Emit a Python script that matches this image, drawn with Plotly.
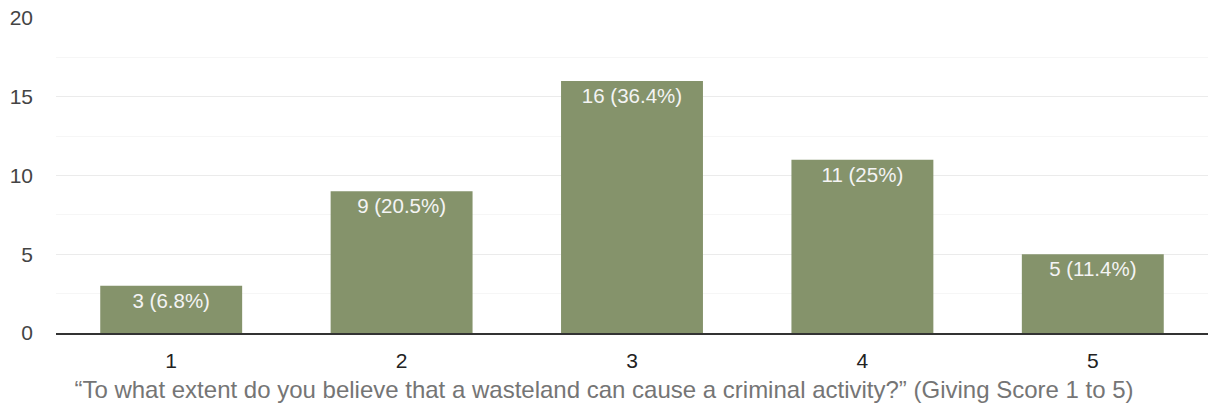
import plotly.graph_objects as go

# Survey responses: score given (1-5) and number of respondents
scores = ["1", "2", "3", "4", "5"]
counts = [3, 9, 16, 11, 5]
percent_labels = ["6.8%", "20.5%", "36.4%", "25%", "11.4%"]
y_ticks = [0, 5, 10, 15, 20]
axis_title = "\u201cTo what extent do you believe that a wasteland can cause a criminal activity?\u201d (Giving Score 1 to 5)"

bar_text = [f"{c} ({p})" for c, p in zip(counts, percent_labels)]

fig = go.Figure(
    go.Bar(
        x=scores,
        y=counts,
        text=bar_text,
        textposition="inside",
        insidetextanchor="end",
        textangle=0,
        textfont=dict(family="Liberation Sans, Arial, sans-serif", size=20.5, color="#f4f4f4"),
        marker=dict(color="#85936b", line=dict(width=0)),
        width=0.616,
        hoverinfo="skip",
    )
)

fig.update_layout(
    width=1208,
    height=410,
    margin=dict(l=56, r=0, t=18, b=77),
    paper_bgcolor="white",
    plot_bgcolor="white",
    showlegend=False,
    font=dict(family="Liberation Sans, Arial, sans-serif"),
    title=dict(
        text=axis_title,
        font=dict(size=24, color="#757575"),
        xref="container",
        x=0.5,
        xanchor="center",
        yref="container",
        y=0.05,
        yanchor="middle",
    ),
)

fig.update_xaxes(
    type="category",
    range=[-0.5, 4.5],
    showgrid=False,
    showline=True,
    linecolor="#333333",
    linewidth=2,
    ticks="",
    ticklabelstandoff=8,
    tickfont=dict(size=21, color="#222222"),
)

fig.update_yaxes(
    range=[0, 20],
    tickvals=y_ticks,
    showgrid=True,
    gridcolor="#ebebeb",
    gridwidth=1,
    minor=dict(dtick=2.5, showgrid=True, gridcolor="#f6f6f6", gridwidth=1),
    zeroline=False,
    showline=False,
    ticks="",
    ticklabelstandoff=22,
    tickfont=dict(size=21, color="#444444"),
)

fig.write_html("out.html")
